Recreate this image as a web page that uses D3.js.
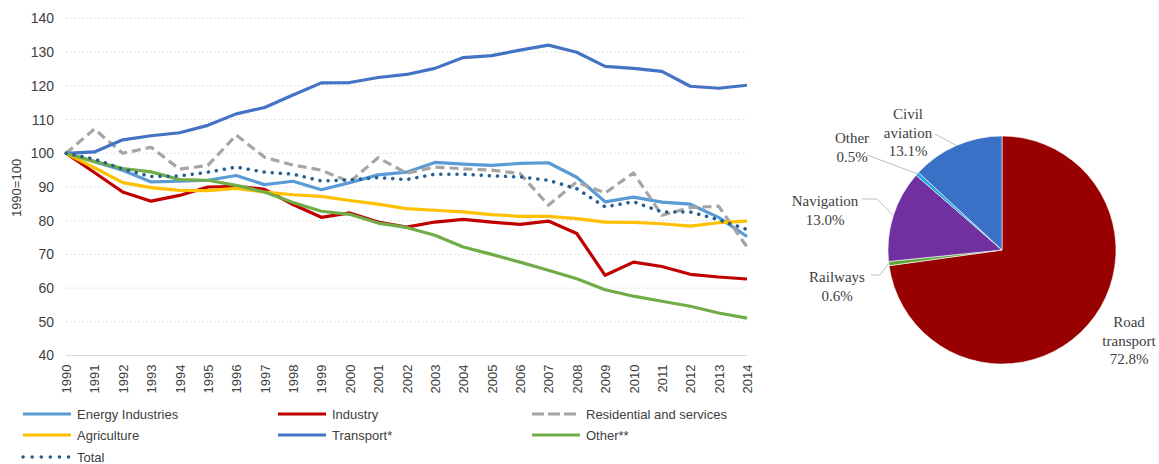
<!DOCTYPE html>
<meta charset="utf-8">
<head>
<title>Emissions index and transport shares</title>
<script src="https://d3js.org/d3.v7.min.js"></script>
<style>
  body { margin: 0; background: #fff; }
  text { font-family: "Liberation Sans", Arial, sans-serif; }
</style>
</head>
<body>
<svg width="1159" height="464"></svg>
<script>
// line chart data (1990 = 100)
var years = ["1990","1991","1992","1993","1994","1995","1996","1997","1998","1999","2000","2001","2002",
             "2003","2004","2005","2006","2007","2008","2009","2010","2011","2012","2013","2014"];
var energy      = [100, 97.5, 95, 91.5, 91.7, 92, 93.4, 90.7, 91.7, 89.2, 91.3, 93.6, 94.4, 97.3, 96.8, 96.4, 97, 97.2, 92.9, 85.6, 87, 85.5, 84.9, 81, 75.3];
var industry    = [100, 94.3, 88.5, 85.8, 87.5, 90, 90.2, 89.3, 84.8, 81, 82.3, 79.6, 78.1, 79.6, 80.4, 79.6, 78.9, 79.9, 76.2, 63.8, 67.7, 66.4, 64.1, 63.3, 62.7];
var residential = [100, 107.2, 100, 101.8, 95.3, 96.4, 105.4, 98.8, 96.5, 95, 91.5, 98.7, 94.1, 95.9, 95.4, 95, 94, 84.6, 91.5, 88.2, 94.2, 81.6, 83.9, 84.3, 72.2];
var agriculture = [100, 95.7, 91.3, 89.8, 89, 88.9, 89.6, 88.5, 87.7, 87.2, 86, 84.9, 83.6, 83.1, 82.6, 81.8, 81.3, 81.3, 80.6, 79.6, 79.5, 79.1, 78.4, 79.4, 79.9];
var transport   = [100, 100.4, 104, 105.2, 106.1, 108.3, 111.7, 113.6, 117.3, 120.9, 121, 122.5, 123.4, 125.2, 128.4, 129, 130.6, 132.1, 130, 125.8, 125.2, 124.3, 119.9, 119.3, 120.2];
var other       = [100, 97.6, 95.5, 94.5, 92.2, 92, 90.5, 88.5, 85.4, 82.8, 81.9, 79.3, 78, 75.7, 72.2, 70, 67.7, 65.3, 62.8, 59.5, 57.6, 56.1, 54.6, 52.6, 51.1];
var total       = [100, 98.3, 95.3, 93.1, 93.3, 94.4, 95.9, 94.4, 93.8, 91.8, 92.1, 92.8, 92.2, 93.8, 93.8, 93.3, 93, 92, 89.5, 84.1, 85.6, 82.6, 82.6, 80.3, 77.4];
var yTicks = [40, 50, 60, 70, 80, 90, 100, 110, 120, 130, 140];

// pie data: transport shares
var pieNames  = ["Road transport", "Railways", "Navigation", "Other", "Civil aviation"];
var pieShares = [72.8, 0.6, 13.0, 0.5, 13.1];

var series = [
  {name: "Energy Industries", values: energy, color: "#5b9bd5", dash: null},
  {name: "Industry", values: industry, color: "#c00000", dash: null},
  {name: "Residential and services", values: residential, color: "#a5a5a5", dash: "9,5"},
  {name: "Agriculture", values: agriculture, color: "#ffc000", dash: null},
  {name: "Transport*", values: transport, color: "#4472c4", dash: null},
  {name: "Other**", values: other, color: "#70ad47", dash: null},
  {name: "Total", values: total, color: "#255e91", dash: "0.1,8"}
];

var svg = d3.select("svg");

var x = d3.scalePoint().domain(years).range([66, 747]);
var y = d3.scaleLinear().domain([40, 140]).range([355.5, 18.5]);

// gridlines
svg.append("g")
  .selectAll("line")
  .data(yTicks.filter(function(d) { return d > 40; }))
  .enter().append("line")
  .attr("x1", 66).attr("x2", 747)
  .attr("y1", function(d) { return y(d); })
  .attr("y2", function(d) { return y(d); })
  .attr("stroke", "#e3e3e3")
  .attr("stroke-dasharray", "2,2");

// y axis
var yAxis = svg.append("g")
  .attr("transform", "translate(66,0)")
  .call(d3.axisLeft(y).tickValues(yTicks).tickSize(0).tickPadding(12));
yAxis.select(".domain").remove();
yAxis.selectAll("text").attr("font-size", 14).attr("fill", "#404040")
  .style("font-family", "Liberation Sans, Arial, sans-serif");

// x axis
var xAxis = svg.append("g")
  .attr("transform", "translate(0," + y(40) + ")")
  .call(d3.axisBottom(x).tickSize(0));
xAxis.select(".domain").attr("stroke", "#d9d9d9").attr("d", "M66,0H747");
xAxis.selectAll("text")
  .attr("font-size", 13).attr("fill", "#404040")
  .style("font-family", "Liberation Sans, Arial, sans-serif")
  .attr("text-anchor", "end")
  .attr("transform", "rotate(-90)")
  .attr("x", -9).attr("y", 0).attr("dy", "0.35em");

svg.append("text")
  .attr("transform", "translate(16,188) rotate(-90)")
  .attr("text-anchor", "middle")
  .attr("dy", "0.35em")
  .attr("font-size", 13)
  .attr("fill", "#404040")
  .text("1990=100");

var line = d3.line()
  .x(function(d, i) { return x(years[i]); })
  .y(function(d) { return y(d); });

svg.append("g")
  .selectAll("path")
  .data(series)
  .enter().append("path")
  .attr("d", function(d) { return line(d.values); })
  .attr("fill", "none")
  .attr("stroke", function(d) { return d.color; })
  .attr("stroke-width", function(d) { return d.name == "Total" ? 3.5 : 3.2; })
  .attr("stroke-linecap", function(d) { return d.name == "Total" ? "round" : "butt"; })
  .attr("stroke-linejoin", "round")
  .attr("stroke-dasharray", function(d) { return d.dash; });

// legend, 3 columns
var legCols = [23, 278, 532], legRows = [414, 435, 457];
var legend = svg.append("g")
  .selectAll("g")
  .data(series)
  .enter().append("g")
  .attr("transform", function(d, i) { return "translate(" + legCols[i % 3] + "," + legRows[Math.floor(i / 3)] + ")"; });

legend.append("line")
  .attr("x1", 0).attr("x2", 48)
  .attr("stroke", function(d) { return d.color; })
  .attr("stroke-width", function(d) { return d.name == "Total" ? 3.5 : 3.2; })
  .attr("stroke-linecap", function(d) { return d.name == "Total" ? "round" : "butt"; })
  .attr("stroke-dasharray", function(d) { return d.name == "Total" ? "0.1,9" : (d.dash ? "12,4" : null); });

legend.append("text")
  .attr("x", 54)
  .attr("dy", "0.35em")
  .attr("font-size", 13)
  .attr("fill", "#404040")
  .text(function(d) { return d.name; });

// pie
var pieColors = ["#990000", "#5ea83b", "#7030a0", "#20a4df", "#3a71c7"];
var cx = 1002, cy = 250, r = 114;
var pieData = d3.pie().sort(null).value(function(d) { return d; })(pieShares);
var arc = d3.arc().innerRadius(0).outerRadius(r);

var pie = svg.append("g").attr("transform", "translate(" + cx + "," + cy + ")");
pie.selectAll("path")
  .data(pieData)
  .enter().append("path")
  .attr("d", arc)
  .attr("fill", function(d, i) { return pieColors[i]; })
  .attr("stroke", "#fff")
  .attr("stroke-width", 0.6);

// label placement relative to pie centre: text centre, leader start, elbow length
var labelPlace = [
  {lx: 127, ly: 77, lines: ["Road", "transport"], leader: null},
  {lx: -165, ly: 32, lines: ["Railways"], leader: [-131, 25], elbow: 9},
  {lx: -177, ly: -44, lines: ["Navigation"], leader: [-140, -51], elbow: 15},
  {lx: -150, ly: -107, lines: ["Other"], leader: [-135, -95], elbow: 0},
  {lx: -94, ly: -131, lines: ["Civil", "aviation"], leader: [-67, -116], elbow: 0}
];

pieData.forEach(function(d, i) {
  var p = labelPlace[i];
  if (p.leader) {
    var a = (d.startAngle + d.endAngle) / 2;
    var ex = r * Math.sin(a), ey = -r * Math.cos(a);
    var pts = [p.leader, [p.leader[0] + p.elbow, p.leader[1]], [ex, ey]];
    pie.append("path")
      .attr("d", d3.line()(pts))
      .attr("fill", "none")
      .attr("stroke", "#b0b0b0")
      .attr("stroke-width", 0.8);
  }
  var t = pie.append("text")
    .attr("text-anchor", "middle")
    .attr("font-size", 15)
    .attr("fill", "#404040")
    .style("font-family", "Liberation Serif, Times New Roman, serif");
  var lines = p.lines.concat([d3.format(".1f")(pieShares[i]) + "%"]);
  lines.forEach(function(s, j) {
    t.append("tspan")
      .attr("x", p.lx)
      .attr("y", p.ly + j * 18.5)
      .text(s);
  });
});
</script>
</body>
